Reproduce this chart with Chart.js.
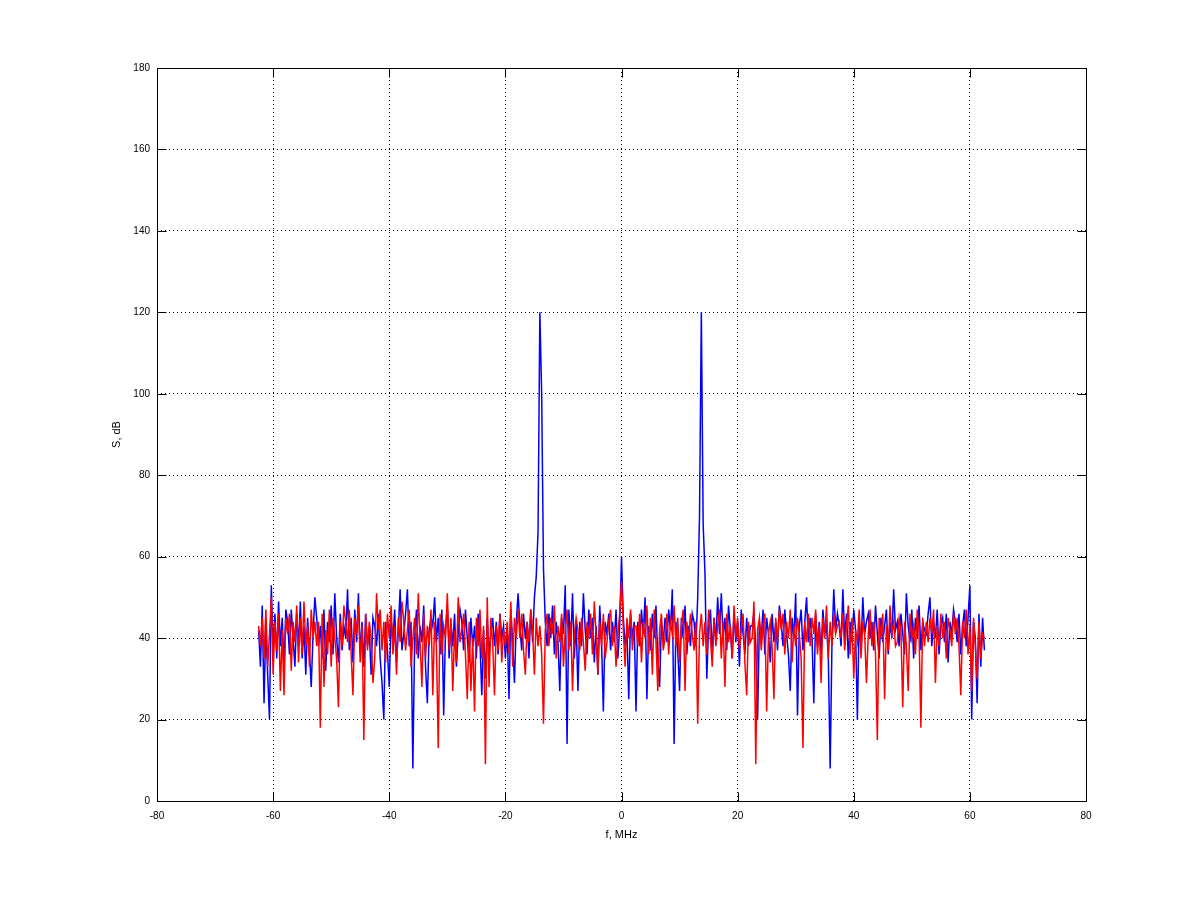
<!DOCTYPE html>
<html>
<head>
<meta charset="utf-8">
<title>Spectrum</title>
<script src="https://cdn.jsdelivr.net/npm/chart.js@4.4.1/dist/chart.umd.min.js"></script>
<style>
  html, body { margin: 0; padding: 0; background: #fff; }
  canvas { display: block; }
</style>
</head>
<body>
<canvas id="spectrum" width="1200" height="901"></canvas>
<script>
// frequency bins: first bin and bin width, MHz
const F_START = -62.5;
const F_STEP = 0.3125;

// tick values
const xTicks = [-80, -60, -40, -20, 0, 20, 40, 60, 80];
const yTicks = [0, 20, 40, 60, 80, 100, 120, 140, 160, 180];

// blue channel, dB (one row = 5 MHz)
const blueDb = [
    42, 33, 48, 24, 44, 31, 20, 53, 37, 46, 35, 49, 38, 45, 33, 47,
    44, 36, 47, 40, 33, 46, 38, 49, 35, 43, 31, 45, 37, 28, 41, 50,
    45, 38, 43, 35, 47, 32, 44, 39, 48, 36, 51, 40, 34, 46, 37, 43,
    40, 52, 37, 45, 34, 47, 39, 51, 36, 44, 33, 46, 38, 42, 31, 45,
    43, 38, 46, 35, 29, 20, 44, 37, 28, 45, 39, 47, 34, 42, 52, 37,
    41, 46, 52, 38, 44, 8, 40, 47, 35, 43, 39, 48, 33, 24, 42, 45,
    43, 50, 39, 45, 36, 47, 21, 42, 48, 35, 44, 38, 46, 33, 41, 47,
    44, 37, 47, 40, 34, 45, 38, 43, 35, 46, 39, 26, 42, 30, 45, 36,
    41, 45, 38, 44, 36, 46, 40, 43, 35, 42, 25, 47, 39, 29, 44, 51,
    43, 37, 46, 40, 44, 35, 47, 39, 50, 55, 66, 120, 100, 57, 44, 38,
    46, 40, 48, 36, 44, 39, 27, 45, 41, 53, 14, 47, 38, 51, 35, 44,
    27, 44, 38, 51, 42, 36, 47, 40, 45, 34, 43, 31, 48, 39, 22, 44,
    41, 46, 37, 44, 39, 47, 35, 43, 60, 45, 38, 42, 25, 46, 40, 44,
    22, 44, 38, 47, 41, 50, 25, 43, 37, 46, 40, 48, 35, 28, 44, 39,
    45, 39, 47, 42, 52, 14, 44, 37, 27, 45, 40, 48, 36, 43, 38, 46,
    44, 38, 50, 70, 120, 68, 56, 30, 43, 47, 36, 45, 39, 50, 41, 51,
    40, 45, 37, 48, 42, 35, 46, 39, 44, 33, 47, 41, 36, 45, 38, 43,
    43, 46, 38, 20, 44, 40, 47, 36, 45, 41, 34, 46, 39, 44, 37, 48,
    44, 38, 47, 41, 36, 27, 45, 40, 51, 21, 43, 47, 37, 44, 50, 39,
    45, 40, 24, 46, 38, 44, 36, 47, 41, 43, 35, 8, 39, 52, 42, 46,
    43, 38, 52, 40, 46, 35, 44, 39, 47, 42, 20, 45, 37, 50, 41, 44,
    46, 40, 44, 37, 48, 41, 35, 45, 39, 43, 47, 36, 44, 40, 52, 42,
    44, 38, 46, 41, 36, 51, 43, 39, 47, 35, 45, 40, 48, 37, 44, 42,
    41, 46, 50, 38, 44, 40, 47, 36, 43, 45, 39, 46, 34, 44, 41, 47,
    44, 39, 46, 36, 43, 47, 38, 45, 53, 20, 44, 40, 24, 46, 33, 45,
    37
];

// red channel, dB
const redDb = [
    43, 38, 45, 35, 47, 33, 41, 50, 31, 44, 37, 46, 27, 42, 26, 45,
    41, 46, 32, 44, 39, 48, 34, 45, 36, 49, 38, 43, 33, 47, 40, 44,
    38, 44, 18, 46, 28, 42, 36, 47, 33, 45, 40, 35, 23, 44, 38, 48,
    44, 39, 47, 36, 26, 45, 41, 48, 34, 43, 15, 46, 37, 44, 40, 29,
    35, 51, 42, 47, 37, 44, 34, 46, 40, 48, 36, 43, 31, 45, 39, 49,
    44, 37, 42, 47, 33, 40, 45, 36, 51, 39, 28, 46, 35, 43, 38, 47,
    26, 44, 38, 13, 46, 36, 43, 40, 51, 37, 45, 27, 42, 34, 50, 39,
    42, 46, 36, 25, 44, 27, 40, 22, 45, 38, 47, 35, 43, 9, 50, 28,
    45, 39, 26, 43, 37, 46, 34, 42, 38, 44, 36, 49, 33, 45, 40, 47,
    40, 46, 37, 31, 44, 39, 47, 42, 31, 45, 38, 43, 36, 19, 42, 46,
    38, 45, 41, 48, 35, 43, 39, 46, 33, 42, 47, 37, 44, 27, 41, 45,
    42, 37, 45, 39, 32, 44, 40, 46, 36, 49, 41, 31, 44, 38, 46, 35,
    39, 44, 47, 38, 43, 33, 41, 46, 54, 42, 33, 45, 40, 47, 37, 43,
    43, 38, 46, 34, 44, 40, 48, 36, 45, 31, 47, 39, 27, 42, 46, 37,
    40, 46, 36, 44, 41, 48, 38, 45, 34, 43, 47, 27, 44, 39, 46, 41,
    37, 44, 19, 41, 46, 38, 44, 36, 47, 40, 33, 45, 38, 43, 47, 35,
    44, 28, 46, 39, 43, 35, 48, 40, 45, 37, 42, 46, 34, 26, 44, 39,
    40, 49, 9, 42, 45, 37, 43, 46, 22, 41, 44, 38, 25, 45, 39, 47,
    42, 46, 36, 44, 40, 47, 34, 43, 38, 45, 41, 35, 13, 44, 39, 46,
    38, 45, 41, 47, 36, 43, 29, 45, 40, 48, 35, 44, 38, 46, 41, 43,
    44, 40, 46, 37, 43, 48, 36, 45, 30, 42, 39, 47, 35, 44, 41, 29,
    41, 47, 38, 44, 36, 15, 45, 40, 46, 25, 43, 37, 48, 41, 44, 38,
    39, 45, 42, 23, 44, 38, 27, 46, 40, 43, 36, 47, 41, 18, 45, 38,
    44, 39, 45, 41, 47, 29, 43, 38, 46, 40, 44, 35, 45, 42, 38, 46,
    41, 45, 38, 26, 44, 40, 47, 36, 43, 27, 45, 38, 30, 44, 35, 41,
    40
];

const TICK_LEN = 9;
const FONT = '"Liberation Sans", Arial, sans-serif';

function toPoints(values) {
    return values.map((v, i) => ({ x: F_START + i * F_STEP, y: v }));
}

// box round the plot and inward tick marks on all four sides
const boxTicks = {
    id: 'boxTicks',
    afterDraw(chart) {
        const { ctx, chartArea: a, scales: { x, y } } = chart;
        const L = Math.round(a.left) + 0.5, R = Math.round(a.right) + 0.5;
        const T = Math.round(a.top) + 0.5, B = Math.round(a.bottom) + 0.5;
        ctx.save();
        ctx.strokeStyle = '#000';
        ctx.lineWidth = 1;
        ctx.beginPath();
        xTicks.forEach(v => {
            const px = Math.round(x.getPixelForValue(v)) + 0.5;
            ctx.moveTo(px, B); ctx.lineTo(px, B - TICK_LEN);
            ctx.moveTo(px, T); ctx.lineTo(px, T + TICK_LEN);
        });
        yTicks.forEach(v => {
            const py = Math.round(y.getPixelForValue(v)) + 0.5;
            ctx.moveTo(L, py); ctx.lineTo(L + TICK_LEN, py);
            ctx.moveTo(R, py); ctx.lineTo(R - TICK_LEN, py);
        });
        ctx.stroke();
        ctx.strokeRect(L, T, R - L, B - T);
        ctx.restore();
    }
};

const ctx = document.getElementById('spectrum').getContext('2d');
new Chart(ctx, {
    type: 'line',
    data: {
        datasets: [
            {
                label: 'red',
                data: toPoints(redDb),
                borderColor: '#ff0000',
                borderWidth: 1.5,
                pointRadius: 0,
                tension: 0,
                order: 1
            },
            {
                label: 'blue',
                data: toPoints(blueDb),
                borderColor: '#0000ff',
                borderWidth: 1.5,
                pointRadius: 0,
                tension: 0,
                order: 2
            }
        ]
    },
    options: {
        responsive: false,
        animation: false,
        devicePixelRatio: 1,
        layout: { padding: { left: 110, right: 114, top: 68, bottom: 59 } },
        plugins: { legend: { display: false }, tooltip: { enabled: false } },
        scales: {
            x: {
                type: 'linear',
                min: -80,
                max: 80,
                afterFit: s => { s.height = 41; },
                afterBuildTicks: s => { s.ticks = xTicks.map(v => ({ value: v })); },
                grid: { color: '#000', lineWidth: 1, drawTicks: false },
                border: { display: false, dash: [1, 3] },
                ticks: { color: '#000', padding: 9, maxRotation: 0, font: { family: FONT, size: 10 } },
                title: {
                    display: true,
                    text: 'f, MHz',
                    color: '#000',
                    padding: 0,
                    font: { family: FONT, size: 11 }
                }
            },
            y: {
                type: 'linear',
                min: 0,
                max: 180,
                afterFit: s => { s.width = 47; },
                afterBuildTicks: s => { s.ticks = yTicks.map(v => ({ value: v })); },
                grid: { color: '#000', lineWidth: 1, drawTicks: false },
                border: { display: false, dash: [1, 3] },
                ticks: { color: '#000', padding: 7, font: { family: FONT, size: 10 } },
                title: {
                    display: true,
                    text: 'S, dB',
                    color: '#000',
                    padding: 0,
                    font: { family: FONT, size: 11 }
                }
            }
        }
    },
    plugins: [boxTicks]
});
</script>
</body>
</html>
